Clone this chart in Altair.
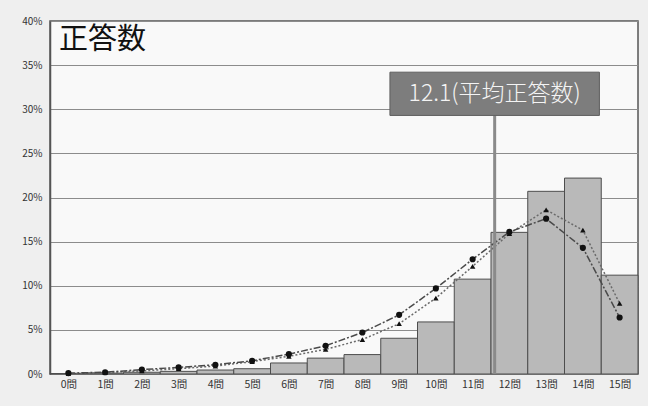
import altair as alt
import pandas as pd

# Number of correct answers (0問 .. 15問) and share of examinees, in percent
questions = list(range(16))
share_bar = [0.05, 0.1, 0.2, 0.3, 0.45, 0.6, 1.25, 1.8, 2.2, 4.05, 5.9,
             10.75, 16.05, 20.7, 22.2, 11.2]
share_circle = [0.1, 0.2, 0.5, 0.75, 1.05, 1.5, 2.25, 3.2, 4.7, 6.7, 9.7,
                13.0, 16.1, 17.6, 14.3, 6.4]
share_triangle = [0.05, 0.15, 0.35, 0.6, 0.9, 1.4, 2.0, 2.8, 3.9, 5.7, 8.6,
                  12.2, 15.9, 18.6, 16.3, 8.0]
y_ticks = [0, 5, 10, 15, 20, 25, 30, 35, 40]

MEAN = 12.1
MEAN_LABEL = f"{MEAN}(平均正答数)"
TITLE = "正答数"

FONT = "Noto Sans CJK JP"

df = pd.DataFrame({
    "q": questions,
    "bar": share_bar,
    "circle": share_circle,
    "triangle": share_triangle,
})
df["x0"] = df["q"]
df["x1"] = df["q"] + 1
df["xc"] = df["q"] + 0.5

x_scale = alt.Scale(domain=[0, 16], nice=False, zero=False)
y_scale = alt.Scale(domain=[0, 40], nice=False)

x_axis = alt.Axis(
    values=[q + 0.5 for q in questions],
    labelExpr="floor(datum.value) + '問'",
    title=None, grid=False, ticks=False, domain=False,
    labelOverlap=False, labelFlush=False, labelBound=False,
    labelFontSize=10.5, labelColor="#333333", labelPadding=5, labelFont=FONT,
)
y_axis = alt.Axis(
    values=y_ticks,
    labelExpr="datum.value + '%'",
    title=None, grid=True, gridColor="#8c8c8c", gridWidth=1,
    ticks=False, domain=True, domainColor="#555555", domainWidth=1.5,
    labelOverlap=False, labelFlush=False,
    labelFontSize=10, labelColor="#333333", labelPadding=8, labelFont=FONT,
)


def X(field):
    return alt.X(field, scale=x_scale, axis=x_axis)


def Y(field):
    return alt.Y(field, scale=y_scale, axis=y_axis)


base = alt.Chart(df)

bars = base.mark_rect(fill="#b9b9b9", stroke="#4d4d4d", strokeWidth=1).encode(
    x=X("x0:Q"), x2="x1:Q", y=Y("bar:Q"), y2=alt.datum(0),
)

tri_line = base.mark_line(color="#6a6a6a", strokeWidth=1.5, strokeDash=[2, 2]).encode(
    x=X("xc:Q"), y=Y("triangle:Q")
)
tri_pts = base.mark_point(shape="triangle-up", filled=True, color="#111111",
                          size=30, opacity=1).encode(x=X("xc:Q"), y=Y("triangle:Q"))

circ_line = base.mark_line(color="#4a4a4a", strokeWidth=1.5,
                           strokeDash=[7, 2, 2, 2]).encode(x=X("xc:Q"), y=Y("circle:Q"))
circ_pts = base.mark_point(shape="circle", filled=True, color="#111111",
                           size=38, opacity=1).encode(x=X("xc:Q"), y=Y("circle:Q"))

# Mean marker: vertical rule with a labelled box on top
mean_df = pd.DataFrame({
    "m": [MEAN], "lo": [MEAN - 2.85], "hi": [MEAN + 2.85],
    "y0": [0], "yb0": [29.3], "yb1": [34.2], "yc": [31.75],
    "label": [MEAN_LABEL],
})
mean_base = alt.Chart(mean_df)
mean_rule = mean_base.mark_rule(color="#8a8a8a", strokeWidth=3).encode(
    x=X("m:Q"), y=Y("y0:Q"), y2="yb0:Q"
)
mean_box = mean_base.mark_rect(fill="#7d7d7d", stroke="#5e5e5e", strokeWidth=1).encode(
    x=X("lo:Q"), x2="hi:Q", y=Y("yb0:Q"), y2="yb1:Q",
)
mean_text = mean_base.mark_text(color="#f4f4f4", fontSize=23, font=FONT,
                                fontWeight=300,
                                align="center", baseline="middle").encode(
    x=X("m:Q"), y=Y("yc:Q"), text="label:N"
)

title_df = pd.DataFrame({"t": [TITLE]})
title = alt.Chart(title_df).mark_text(
    fontSize=29, font=FONT, color="#111111", align="left", baseline="top"
).encode(x=alt.value(9), y=alt.value(5), text="t:N")

chart = alt.layer(
    bars, tri_line, circ_line, tri_pts, circ_pts, mean_rule, mean_box, mean_text, title
).properties(
    width=588, height=353,
    autosize=alt.AutoSizeParams(type="none"),
    padding={"left": 50, "top": 21, "right": 10, "bottom": 32},
    background="#efefef",
).configure_view(
    fill="#f9f9f9", stroke="#555555", strokeWidth=1.5
).configure_axis(
    labelOverlap=False
)

chart.save("out.html", embed_options={"renderer": "svg", "actions": False})
